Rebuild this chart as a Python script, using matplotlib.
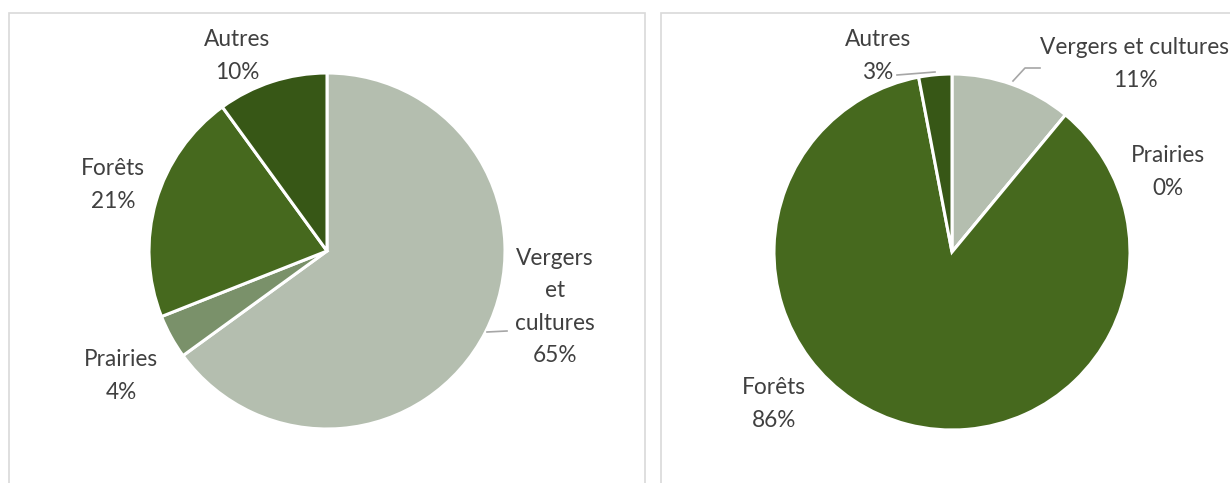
import matplotlib.pyplot as plt
from matplotlib.patches import Rectangle

plt.rcParams['font.family'] = ['Lato', 'DejaVu Sans']

# data
categories = ["Vergers et cultures", "Prairies", "Forêts", "Autres"]
left_values = [65, 4, 21, 10]
right_values = [11, 0, 86, 3]
colors = ["#B4BEAF", "#7A916A", "#46691E", "#375716"]

W, H = 1230, 483
fig = plt.figure(figsize=(W / 100, H / 100), dpi=100)
ax = fig.add_axes([0, 0, 1, 1])

# panel borders
for x0, x1 in [(9, 645), (661, 1240)]:
    ax.add_patch(Rectangle((x0, -10), x1 - x0, H - 13 + 10, fill=False,
                           edgecolor="#D9D9D9", linewidth=1.2))

wedge_kw = dict(edgecolor="white", linewidth=2.2)
ax.pie(left_values, colors=colors, startangle=90, counterclock=False,
       center=(327, H - 251), radius=178, wedgeprops=wedge_kw, frame=True)
ax.pie(right_values, colors=colors, startangle=90, counterclock=False,
       center=(952, H - 252), radius=178, wedgeprops=wedge_kw, frame=True)
ax.set_xlim(0, W)
ax.set_ylim(0, H)
ax.set_aspect('equal')
ax.axis('off')

txt = dict(fontsize=16.3, color="#404040", ha="center", va="center",
           linespacing=1.66)

# left labels (label centre in pixels)
left_pos = [(555, 307), (121, 376), (113, 185), (237, 56)]
left_names = ["Vergers\net\ncultures", "Prairies", "Forêts", "Autres"]
for name, v, (x, y) in zip(left_names, left_values, left_pos):
    ax.text(x, H - y, f"{name}\n{v}%", **txt)

# right labels
right_pos = [(1135, 64), (1168, 172), (774, 404), (878, 56)]
for name, v, (x, y) in zip(categories, right_values, right_pos):
    ax.text(x, H - y, f"{name}\n{v}%", **txt)

# leader lines
lc = dict(color="#A6A6A6", linewidth=1.2)
ax.plot([487, 507], [H - 332, H - 331], **lc)
ax.plot([897, 935], [H - 75, H - 72], **lc)
ax.plot([1013, 1025, 1040], [H - 81, H - 68, H - 68], **lc)

fig.savefig("out.png", dpi=100, facecolor="white")
